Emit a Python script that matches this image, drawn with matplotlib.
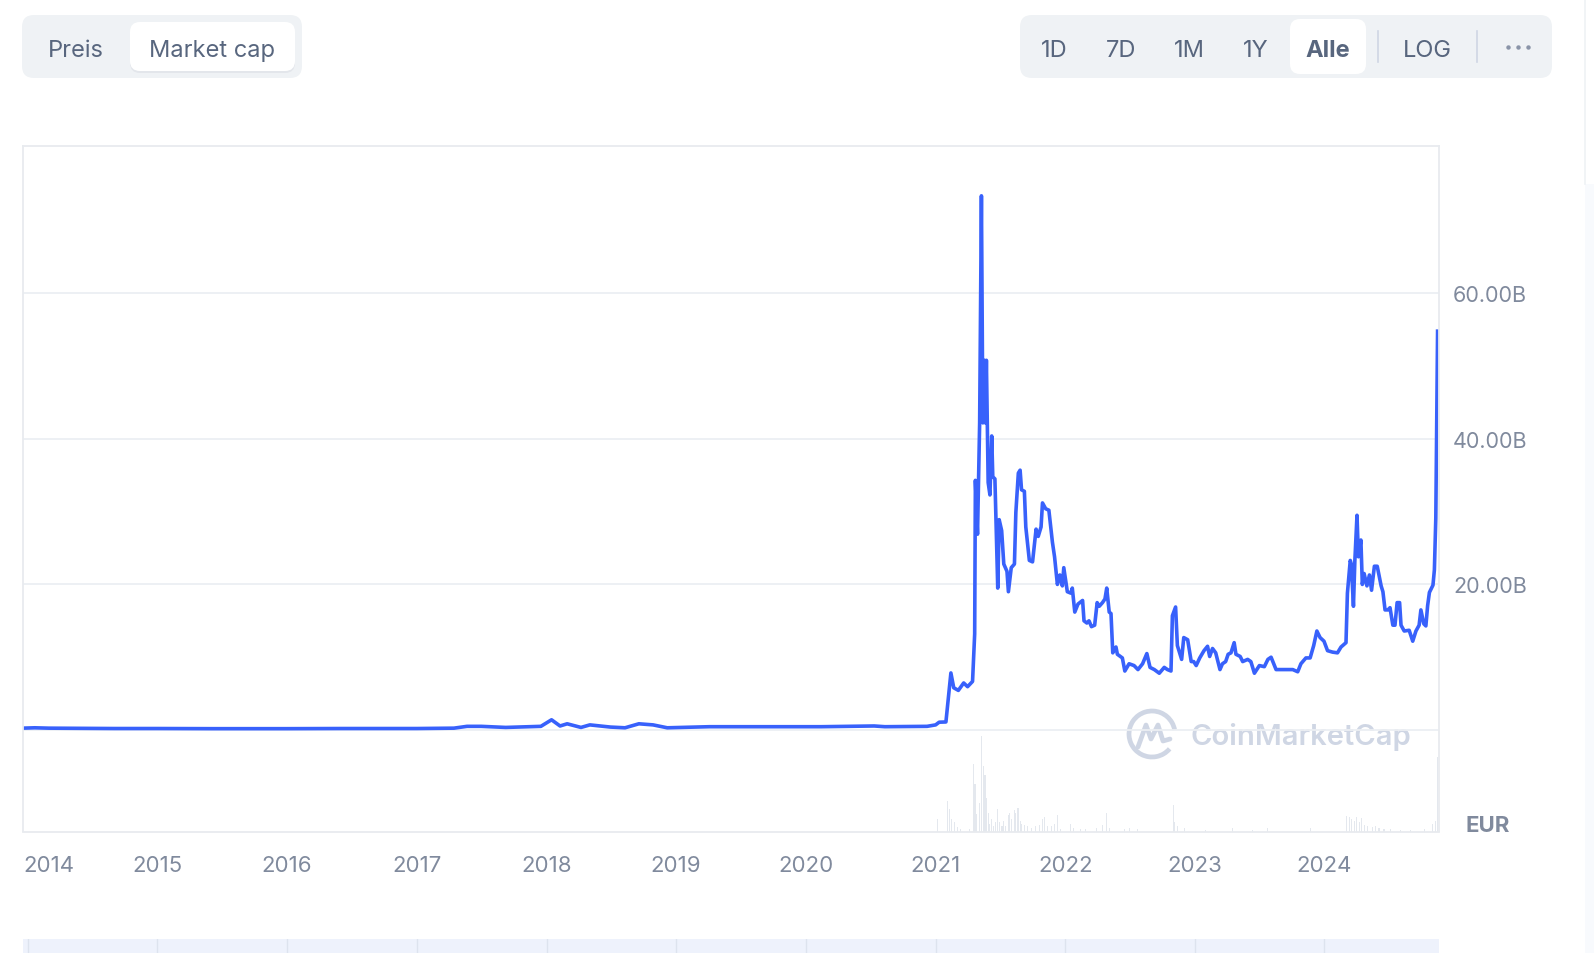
import matplotlib
matplotlib.use('Agg')
import matplotlib.pyplot as plt
from matplotlib.patches import FancyBboxPatch, Arc, Rectangle
from matplotlib.transforms import ScaledTranslation
import pandas as pd

plt.rcParams['font.family'] = ['Inter', 'DejaVu Sans']

# market cap in billion EUR
mcap_2013_2020 = [
    ('2013-12-17', 0.25), ('2014-01-20', 0.3), ('2014-03-01', 0.25), ('2014-06-01', 0.22),
    ('2014-09-01', 0.2), ('2015-01-01', 0.2), ('2015-06-01', 0.18), ('2016-01-01', 0.18),
    ('2016-06-01', 0.2), ('2017-01-01', 0.2), ('2017-04-15', 0.25), ('2017-05-22', 0.5),
    ('2017-07-01', 0.5), ('2017-09-08', 0.35), ('2017-12-16', 0.5), ('2018-01-15', 1.4),
    ('2018-02-08', 0.55), ('2018-02-28', 0.85), ('2018-04-08', 0.35), ('2018-05-03', 0.7),
    ('2018-06-30', 0.4), ('2018-08-10', 0.3), ('2018-09-18', 0.85), ('2018-10-28', 0.7),
    ('2018-12-07', 0.3), ('2019-04-05', 0.45), ('2019-07-01', 0.45), ('2020-02-14', 0.45),
    ('2020-07-12', 0.55), ('2020-08-11', 0.45), ('2020-12-08', 0.5),
]
mcap_2021 = [
    ('2021-01-01', 0.7), ('2021-01-11', 1.07), ('2021-01-30', 1.1), ('2021-02-13', 7.84),
    ('2021-02-21', 5.8), ('2021-03-06', 5.44), ('2021-03-21', 6.46), ('2021-04-01', 5.95),
    ('2021-04-15', 6.67), ('2021-04-21', 13.2), ('2021-04-23', 34.3), ('2021-04-29', 26.9),
    ('2021-05-05', 42.2), ('2021-05-10', 73.4), ('2021-05-14', 42.2), ('2021-05-18', 50.8),
    ('2021-05-21', 42.2), ('2021-05-24', 50.8), ('2021-05-29', 34.0), ('2021-06-03', 32.3),
    ('2021-06-08', 40.4), ('2021-06-11', 34.8), ('2021-06-17', 34.5), ('2021-06-25', 19.5),
    ('2021-06-29', 28.9), ('2021-07-06', 27.4), ('2021-07-12', 22.8), ('2021-07-21', 21.8),
    ('2021-07-25', 19.0), ('2021-08-02', 22.3), ('2021-08-11', 22.8), ('2021-08-15', 29.9),
    ('2021-08-22', 35.3), ('2021-08-27', 35.7), ('2021-08-31', 33.0), ('2021-09-08', 32.8),
    ('2021-09-12', 27.9), ('2021-09-22', 23.3), ('2021-10-01', 23.1), ('2021-10-11', 27.6),
    ('2021-10-17', 26.6), ('2021-10-25', 27.9), ('2021-10-29', 31.2), ('2021-11-07', 30.4),
    ('2021-11-16', 30.2), ('2021-11-26', 25.8), ('2021-12-02', 23.8), ('2021-12-10', 20.0),
    ('2021-12-17', 21.3), ('2021-12-24', 19.8), ('2021-12-28', 22.3),
]
mcap_2022 = [
    ('2022-01-07', 19.0), ('2022-01-17', 18.8), ('2022-01-21', 19.5), ('2022-01-28', 16.2),
    ('2022-02-06', 17.3), ('2022-02-19', 17.8), ('2022-02-23', 15.0), ('2022-03-03', 14.7),
    ('2022-03-09', 15.0), ('2022-03-16', 14.2), ('2022-03-25', 14.4), ('2022-04-01', 17.5),
    ('2022-04-07', 17.0), ('2022-04-16', 17.5), ('2022-04-23', 18.0), ('2022-04-28', 19.5),
    ('2022-05-05', 16.2), ('2022-05-10', 16.0), ('2022-05-15', 10.6), ('2022-05-24', 11.4),
    ('2022-05-28', 10.4), ('2022-06-11', 9.9), ('2022-06-18', 8.1), ('2022-06-30', 9.1),
    ('2022-07-14', 8.85), ('2022-07-25', 8.3), ('2022-08-07', 9.1), ('2022-08-19', 10.5),
    ('2022-08-28', 8.6), ('2022-09-09', 8.3), ('2022-09-23', 7.8), ('2022-10-07', 8.6),
    ('2022-10-16', 8.3), ('2022-10-26', 8.1), ('2022-10-30', 15.7), ('2022-11-08', 16.9),
    ('2022-11-13', 11.6), ('2022-11-25', 9.7), ('2022-12-01', 12.7), ('2022-12-12', 12.4),
    ('2022-12-22', 9.4), ('2022-12-29', 9.4),
]
mcap_2023 = [
    ('2023-01-05', 8.85), ('2023-01-15', 9.9), ('2023-01-27', 10.9), ('2023-02-06', 11.5),
    ('2023-02-12', 10.1), ('2023-02-20', 11.2), ('2023-03-01', 10.6), ('2023-03-13', 8.3),
    ('2023-03-20', 9.1), ('2023-03-29', 9.4), ('2023-04-05', 10.4), ('2023-04-13', 10.6),
    ('2023-04-22', 12.0), ('2023-04-27', 10.4), ('2023-05-09', 10.1), ('2023-05-16', 9.4),
    ('2023-05-30', 9.7), ('2023-06-08', 9.4), ('2023-06-18', 7.8), ('2023-07-02', 8.85),
    ('2023-07-16', 8.7), ('2023-07-26', 9.7), ('2023-08-04', 10.0), ('2023-08-18', 8.3),
    ('2023-09-01', 8.3), ('2023-09-20', 8.3), ('2023-10-04', 8.3), ('2023-10-18', 8.0),
    ('2023-10-27', 9.1), ('2023-11-10', 9.9), ('2023-11-22', 9.9), ('2023-12-02', 11.6),
    ('2023-12-11', 13.6), ('2023-12-20', 12.7), ('2023-12-31', 12.2),
]
mcap_2024 = [
    ('2024-01-10', 10.9), ('2024-01-24', 10.7), ('2024-02-07', 10.6), ('2024-02-17', 11.4),
    ('2024-03-02', 12.0), ('2024-03-06', 18.8), ('2024-03-14', 23.3), ('2024-03-17', 22.8),
    ('2024-03-23', 17.0), ('2024-03-27', 23.3), ('2024-04-02', 29.5), ('2024-04-06', 23.8),
    ('2024-04-13', 26.1), ('2024-04-17', 20.0), ('2024-04-22', 21.5), ('2024-04-30', 19.8),
    ('2024-05-07', 21.3), ('2024-05-13', 19.2), ('2024-05-21', 22.5), ('2024-05-29', 22.5),
    ('2024-06-09', 19.8), ('2024-06-14', 19.0), ('2024-06-20', 16.5), ('2024-06-28', 16.5),
    ('2024-07-04', 16.8), ('2024-07-12', 14.4), ('2024-07-18', 14.4), ('2024-07-24', 17.5),
    ('2024-07-31', 17.5), ('2024-08-04', 14.4), ('2024-08-13', 13.6), ('2024-08-27', 13.7),
    ('2024-09-06', 12.2), ('2024-09-15', 13.6), ('2024-09-24', 14.4), ('2024-09-29', 16.5),
    ('2024-10-07', 14.6), ('2024-10-13', 14.3), ('2024-10-18', 17.1), ('2024-10-23', 18.9),
    ('2024-11-02', 19.9), ('2024-11-06', 22.0), ('2024-11-10', 29.1), ('2024-11-13', 44.3),
    ('2024-11-15', 54.8),
]

# trading volume (billion EUR), light bars at the bottom
volume_2021 = [
    ('2021-01-07', 7.5), ('2021-02-04', 18.6), ('2021-02-09', 13.5), ('2021-02-15', 7.5),
    ('2021-02-22', 5.5), ('2021-03-04', 2.5), ('2021-03-13', 1.4), ('2021-04-06', 1.4),
    ('2021-04-18', 41), ('2021-04-22', 29), ('2021-04-27', 10.5), ('2021-05-04', 17),
    ('2021-05-10', 58), ('2021-05-15', 40), ('2021-05-20', 34), ('2021-05-25', 20.6),
    ('2021-05-29', 11), ('2021-06-03', 4.4), ('2021-06-08', 7.5), ('2021-06-13', 3.4),
    ('2021-06-19', 5.5), ('2021-06-25', 13.5), ('2021-07-01', 5.5), ('2021-07-07', 3.4),
    ('2021-07-12', 6.5), ('2021-07-18', 3.4), ('2021-07-24', 10), ('2021-07-29', 11),
    ('2021-08-04', 7.5), ('2021-08-10', 13), ('2021-08-15', 11.5), ('2021-08-21', 14.5),
    ('2021-08-27', 6.5), ('2021-09-01', 4.4), ('2021-09-09', 3.8), ('2021-09-17', 3.4),
    ('2021-09-29', 2), ('2021-10-10', 3.4), ('2021-10-20', 3.8), ('2021-10-29', 7.5),
    ('2021-11-05', 8.5), ('2021-11-12', 3.4), ('2021-11-24', 3.4), ('2021-12-01', 4.4),
    ('2021-12-09', 10), ('2021-12-18', 1.4),
]
volume_2022_2024 = [
    ('2022-01-17', 4.8), ('2022-01-25', 2.4), ('2022-02-14', 1.4), ('2022-02-28', 1.4),
    ('2022-03-31', 2.4), ('2022-04-16', 3.8), ('2022-04-28', 11), ('2022-05-05', 2),
    ('2022-06-18', 1.4), ('2022-06-30', 2), ('2022-07-24', 1.4), ('2022-11-01', 16),
    ('2022-11-06', 5.5), ('2022-11-13', 3.4), ('2022-12-02', 2), ('2023-02-01', 1),
    ('2023-04-17', 2), ('2023-06-13', 1.2), ('2023-07-25', 2.4), ('2023-11-24', 2),
    ('2024-03-04', 9.5), ('2024-03-11', 8.5), ('2024-03-17', 7.5), ('2024-03-25', 6.5),
    ('2024-04-01', 8.5), ('2024-04-08', 5.5), ('2024-04-15', 8), ('2024-04-22', 3.8),
    ('2024-05-02', 3.4), ('2024-05-16', 2.8), ('2024-05-25', 3.4), ('2024-06-03', 2.4),
    ('2024-06-17', 1.8), ('2024-07-06', 1.4), ('2024-08-03', 1.2), ('2024-09-01', 1.2),
    ('2024-10-08', 1.6), ('2024-11-01', 4.4), ('2024-11-10', 6.5), ('2024-11-15', 45),
]

years = list(range(2014, 2025))
ytick_values = [0, 20, 40, 60]
ytick_labels = ['', '20.00B', '40.00B', '60.00B']
left_buttons = ['Preis', 'Market cap']
right_buttons = ['1D', '7D', '1M', '1Y', 'Alle']

mcap = pd.DataFrame(mcap_2013_2020 + mcap_2021 + mcap_2022 + mcap_2023 + mcap_2024,
                    columns=['date', 'value'])
mcap['date'] = pd.to_datetime(mcap['date'])
vol = pd.DataFrame(volume_2021 + volume_2022_2024, columns=['date', 'value'])
vol['date'] = pd.to_datetime(vol['date'])

BLUE = '#3861fb'
GREY_TXT = '#808a9d'
BTN_TXT = '#58667e'

W, H = 1594, 954
fig = plt.figure(figsize=(W / 100, H / 100), dpi=100)
fig.patch.set_facecolor('white')

ax = fig.add_axes([22.6 / W, 1 - 832.5 / H, (1439 - 22.6) / W, (832.5 - 146.6) / H])
axv = ax.twinx()
ax.set_zorder(axv.get_zorder() + 1)
ax.patch.set_visible(False)

axv.bar(vol['date'], vol['value'], width=3, color='#e4e8ee', linewidth=0)
axv.set_ylim(0, 416)
axv.set_yticks([])
for s in axv.spines.values():
    s.set_visible(False)

ax.plot(mcap['date'], mcap['value'], color=BLUE, lw=2.6, solid_joinstyle='round')
ax.set_xlim(pd.Timestamp('2013-12-17'), pd.Timestamp('2024-11-19'))
ax.set_ylim(-13.95, 80.3)

ax.yaxis.tick_right()
ax.set_yticks(ytick_values)
ax.set_yticklabels(ytick_labels)
ax.grid(axis='y', color='#eceff3', lw=1.3)
ax.set_axisbelow(True)
ax.tick_params(axis='y', length=0, pad=10, labelsize=15.5, labelcolor=GREY_TXT)

ax.set_xticks([pd.Timestamp(f'{y}-01-01') for y in years])
ax.set_xticklabels([str(y) for y in years])
ax.tick_params(axis='x', length=0, pad=17, labelsize=16, labelcolor=GREY_TXT)
first = ax.xaxis.get_major_ticks()[0].label1
first.set_horizontalalignment('left')
first.set_transform(first.get_transform() + ScaledTranslation(-3.5 / 72, 0, fig.dpi_scale_trans))

for s in ax.spines.values():
    s.set_color('#e8ebef')
    s.set_linewidth(1.3)

fig.text(1488 / W, 1 - 826 / H, 'EUR', ha='center', va='center',
         fontsize=16, fontweight='bold', color=GREY_TXT)

# navigator strip at the very bottom
nav = fig.add_axes([22.6 / W, 0, (1439 - 22.6) / W, 14 / H], sharex=ax)
nav.set_facecolor('#eef2fc')
for y in years:
    nav.axvline(pd.Timestamp(f'{y}-01-01'), color='#dde3ee', lw=1)
nav.set_yticks([])
nav.tick_params(axis='x', length=0, labelbottom=False)
for s in nav.spines.values():
    s.set_visible(False)

# overlay in pixel coordinates for the buttons and watermark
ui = fig.add_axes([0, 0, 1, 1])
ui.set_xlim(0, W)
ui.set_ylim(H, 0)
ui.axis('off')


def pill(x0, y0, x1, y1, color, r=12, z=1):
    ui.add_patch(FancyBboxPatch((x0, y0), x1 - x0, y1 - y0,
                                boxstyle=f'round,pad=0,rounding_size={r}',
                                fc=color, ec='none', zorder=z))


pill(22, 16, 302, 79, '#eff2f5')
pill(130, 26, 295, 74, '#e3e6eb', r=10, z=2)
pill(130, 23, 295, 72, 'white', r=10, z=3)
pill(1020, 16, 1552, 79, '#eff2f5')
pill(1290, 20, 1366, 75, 'white', r=10, z=3)
for xs in (1378.5, 1477):
    ui.plot([xs, xs], [32, 63], color='#cfd6e4', lw=1.2, zorder=4)

TY = 48.5
for label, xc in zip(left_buttons, [76, 212]):
    ui.text(xc, TY, label, ha='center', va='center_baseline', fontsize=17,
            color=BTN_TXT, zorder=5)
for label, xc in zip(right_buttons, [1054, 1121, 1189, 1256, 1328]):
    ui.text(xc, TY, label, ha='center', va='center_baseline', fontsize=17, color=BTN_TXT,
            fontweight='bold' if label == 'Alle' else 'normal', zorder=5)
ui.text(1427, TY, 'LOG', ha='center', va='center_baseline', fontsize=17,
        color=BTN_TXT, zorder=5)
for xd in (1508, 1518, 1528):
    ui.plot(xd, 48, 'o', ms=3.2, color='#8a94a8', mec='none', zorder=5)

# page edge on the far right
ui.plot([1585, 1585], [0, 185], color='#eff2f5', lw=1.2)
ui.add_patch(Rectangle((1585, 185), 9, H - 185, fc='#f8fafd', ec='none'))

# CoinMarketCap watermark
WM = '#cfd6e4'
ui.add_patch(Arc((1152, 735), 46, 46, theta1=40, theta2=350, color=WM, lw=3.4))
ui.plot([1138, 1146, 1151, 1158, 1163, 1170], [748, 726, 740, 726, 742, 740],
        color=WM, lw=3.4, solid_capstyle='round', solid_joinstyle='round')
ui.text(1191, 737, 'CoinMarketCap', ha='left', va='center', fontsize=21,
        fontweight='semibold', color=WM)

fig.savefig('out.png', dpi=100, facecolor='white')
